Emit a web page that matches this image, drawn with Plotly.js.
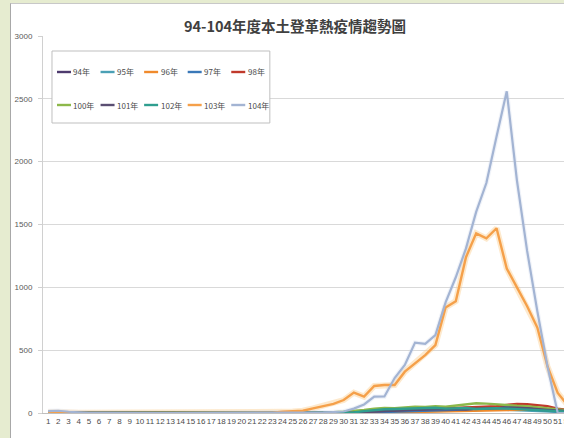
<!DOCTYPE html>
<html><head><meta charset="utf-8">
<script src="https://cdn.plot.ly/plotly-3.0.1.min.js"></script>
<style>
html,body{margin:0;padding:0;width:564px;height:438px;overflow:hidden;background:#E6ECD0;}
#frame{position:absolute;left:10px;top:3px;width:600px;height:440px;background:#fff;border-left:1px solid #A8A8A8;border-top:1px solid #C8C8C8;}
#chart{position:absolute;left:0;top:0;}
</style></head><body><div id="frame"><div id="chart"></div></div>
<script>
var weeks = [1,2,3,4,5,6,7,8,9,10,11,12,13,14,15,16,17,18,19,20,21,22,23,24,25,26,27,28,29,30,31,32,33,34,35,36,37,38,39,40,41,42,43,44,45,46,47,48,49,50,51,52];
var seriesNames = ["94年","95年","96年","97年","98年","100年","101年","102年","103年","104年"];
var seriesColors = ["#4E3B6E","#4AA0B5","#F08A2C","#3A78B8","#C0392B","#8DB84A","#5A4E72","#2F9E8F","#F5A04A","#A3B4D3"];

var y94  = [2,2,1,1,1,0,0,0,0,0,0,0,0,0,0,0,0,0,0,0,0,0,0,0,0,1, 1,2,3,5,8,12,18,20,22,25,28,30,32,30,35,40,38,42,45,48,50,45,40,35,25,18];
var y95  = [1,1,1,0,0,0,0,0,0,0,0,0,0,0,0,0,0,0,0,0,0,0,0,0,0,0, 0,0,1,1,2,3,5,6,8,10,12,15,18,20,22,25,28,30,28,25,22,20,18,15,10,6];
var y96  = [0,0,0,0,0,0,0,0,0,0,0,0,0,0,0,0,0,0,0,0,0,0,0,0,0,0, 0,0,0,1,1,2,3,4,5,6,8,10,12,10,12,15,18,20,22,25,28,30,28,22,18,12];
var y97  = [0,0,0,0,0,0,0,0,0,0,0,0,0,0,0,0,0,0,0,0,0,0,0,0,0,0, 0,0,1,2,3,4,6,8,10,12,15,18,20,22,25,30,35,38,40,42,38,32,25,18,12,8];
var y98  = [1,1,0,0,0,0,0,0,0,0,0,0,0,0,0,0,0,0,0,0,0,0,0,0,0,0, 1,2,3,5,8,10,15,20,22,25,28,30,35,38,40,42,45,50,55,65,72,70,62,55,35,25];
var y100 = [1,1,1,0,0,0,0,0,0,0,0,0,0,0,0,0,0,0,0,0,0,0,0,0,0,1, 2,4,6,10,15,25,35,40,38,45,50,48,55,50,60,70,78,75,68,62,58,55,45,35,25,20];
var y101 = [0,0,0,0,0,0,0,0,0,0,0,0,0,0,0,0,0,0,0,0,0,0,0,0,0,0, 0,1,2,3,5,8,10,15,18,22,25,28,30,32,30,28,35,38,40,45,42,38,30,25,20,15];
var y102 = [0,0,0,0,0,0,0,0,0,0,0,0,0,0,0,0,0,0,0,0,0,0,0,0,0,0, 0,1,1,2,5,15,25,30,32,35,38,40,42,35,38,40,32,35,38,35,30,28,25,20,15,10];
var y103 = [4,8,3,1,1,0,0,0,0,0,0,0,0,0,0,0,0,0,0,0,0,1,3,10,12,18, 37,56,72,103,162,130,215,223,223,329,397,461,541,840,890,1240,1430,1390,1470,1150,1000,850,680,370,160,60];
var y104 = [15,18,10,4,2,1,0,0,0,0,0,0,0,0,0,0,0,0,0,0,0,0,0,1,2,2, 3,5,8,12,35,68,130,132,278,382,560,550,620,880,1080,1310,1600,1830,2200,2560,1850,1290,810,370,0,0];

var allY = [y94,y95,y96,y97,y98,y100,y101,y102,y103,y104];
var traces = [];
// soft glow under the two large series
[8,9].forEach(function(i){
  traces.push({x:weeks,y:allY[i],type:'scatter',mode:'lines',hoverinfo:'skip',showlegend:false,
    line:{color:i===8?'rgba(250,200,130,0.40)':'rgba(205,215,235,0.30)',width:i===8?6:4.5}});
});
allY.forEach(function(ys,i){
  traces.push({x:weeks,y:ys,type:'scatter',mode:'lines',name:seriesNames[i],showlegend:false,
    line:{color:seriesColors[i],width:(i===8?2.4:(i===9?2.2:2.4))}});
});

// plot area geometry (px within the chart div)
var L=32, T=32, PW=530.4, PH=377, W=568, H=434;
function px(xp){return (xp-L)/PW;}
function py(yp){return (T+PH-yp)/PH;}

var shapes=[], annotations=[];
var bx0=52-11, bx1=270-11, by0=51-4, by1=123-4;
shapes.push({type:'rect',xref:'paper',yref:'paper',x0:px(bx0),x1:px(bx1),y0:py(by1),y1:py(by0),
  line:{color:'#BFBFBF',width:1},fillcolor:'#FFFFFF',layer:'above'});
var rowsY=[72-4,105-4];
for(var i=0;i<seriesNames.length;i++){
  var r=Math.floor(i/5), c=i%5;
  var x0=57-11+c*43.6, yy=rowsY[r];
  shapes.push({type:'line',xref:'paper',yref:'paper',x0:px(x0),x1:px(x0+14),y0:py(yy),y1:py(yy),
    line:{color:seriesColors[i],width:2.4},layer:'above'});
  annotations.push({xref:'paper',yref:'paper',x:px(x0+14.5),y:py(yy),xanchor:'left',yanchor:'middle',
    text:seriesNames[i],showarrow:false,font:{family:'"Noto Sans CJK TC", sans-serif',size:8,color:'#4A4A4A'}});
}

var layout={
  width:W,height:H,margin:{l:L,r:W-L-PW,t:T,b:H-T-PH},
  paper_bgcolor:'#FFFFFF',plot_bgcolor:'#FFFFFF',
  title:{text:'94-104年度本土登革熱疫情趨勢圖',x:0.5,xanchor:'center',xref:'container',
    y:1-23/H,yref:'container',yanchor:'middle',
    font:{family:'"Noto Sans CJK TC", sans-serif',size:14.5,color:'#404040',weight:'bold'}},
  xaxis:{range:[0.5,52.5],tickmode:'array',tickvals:weeks,ticktext:weeks.map(String),tickangle:0,
    tickfont:{family:'"Liberation Sans Narrow","Liberation Sans",sans-serif',size:8,color:'#4A4A4A'},
    showgrid:false,zeroline:false,showline:true,linecolor:'#BFBFBF',linewidth:1,ticks:'',fixedrange:true},
  yaxis:{range:[0,3000],dtick:500,tickmode:'linear',tick0:0,gridcolor:'#D9D9D9',gridwidth:1,zeroline:false,
    showline:true,linecolor:'#D0D0D0',ticks:'outside',ticklen:4,tickcolor:'#D0D0D0',ticklabelstandoff:4,
    tickfont:{family:'"Liberation Sans Narrow","Liberation Sans",sans-serif',size:8,color:'#595959'},fixedrange:true},
  shapes:shapes,annotations:annotations,showlegend:false
};
Plotly.newPlot('chart',traces,layout,{displayModeBar:false,staticPlot:true});
</script></body></html>
